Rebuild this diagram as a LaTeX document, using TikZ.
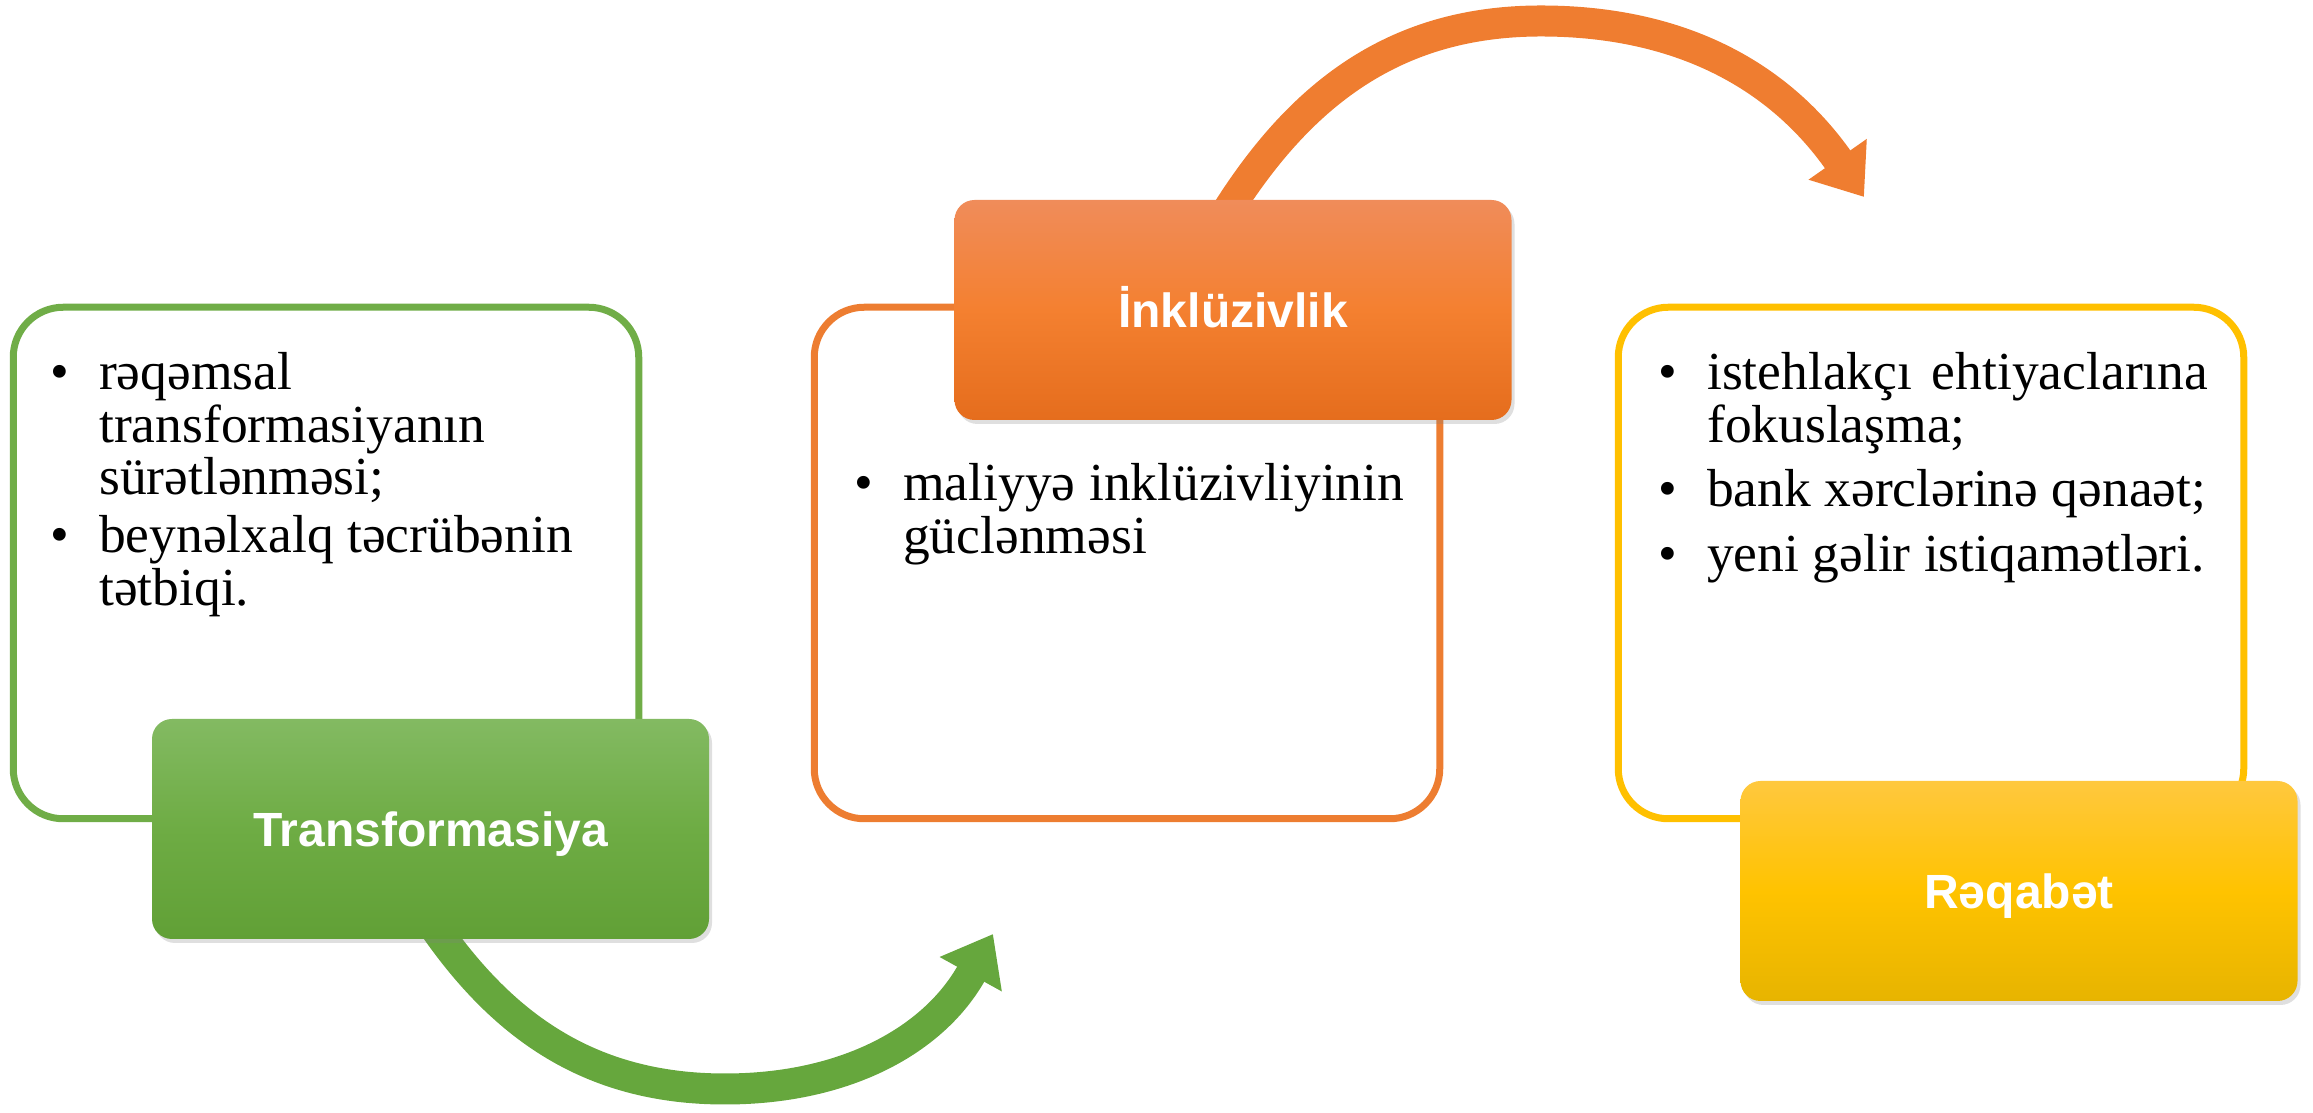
\documentclass[tikz,border=0pt]{standalone}
\usepackage{fontspec}
\setmainfont{Liberation Serif}
\newfontfamily\hdrfont{Liberation Sans}
\usetikzlibrary{arrows.meta,shadows}
\definecolor{gline}{HTML}{70AD47}
\definecolor{oline}{HTML}{ED7D31}
\definecolor{yline}{HTML}{FFC000}
\definecolor{gtop}{HTML}{83BA62}
\definecolor{gmid}{HTML}{6EAC44}
\definecolor{gbot}{HTML}{61A036}
\definecolor{otop}{HTML}{F08C5A}
\definecolor{omid}{HTML}{F48030}
\definecolor{obot}{HTML}{E56D1D}
\definecolor{ytop}{HTML}{FFC83E}
\definecolor{ymid}{HTML}{FFC300}
\definecolor{ybot}{HTML}{E7B400}
\definecolor{garrow}{HTML}{66A73D}
\definecolor{oarrow}{HTML}{EF7D30}
\newcommand\bitem[1]{\hangindent=49pt\hangafter=1\noindent\makebox[49pt][l]{\textbullet}#1\par}
\begin{document}
\begin{tikzpicture}[x=1pt,y=1pt,
  outlinebox/.style={draw=#1, line width=7pt, rounded corners=50pt,
    minimum width=625.5pt, minimum height=511.5pt, inner sep=0pt, fill=white},
  headbox/.style={rounded corners=20pt, minimum width=557pt, minimum height=220pt,
    inner sep=0pt, text=white, font=\hdrfont\bfseries\fontsize{48}{48}\selectfont,
    text height=34.4pt, text depth=0pt,
    drop shadow={shadow xshift=3pt, shadow yshift=-4pt, opacity=0.25}},
  bodytext/.style={anchor=base west, inner sep=0pt, font=\fontsize{53.5}{52.5}\selectfont},
  flow/.style={line width=31pt}
]
\useasboundingbox (0,0) rectangle (2313,1113);

% outline boxes
\node[outlinebox=gline] (gbox) at (326,550) {};
\node[outlinebox=oline] (obox) at (1127,550) {};
\node[outlinebox=yline] (ybox) at (1931,550) {};

% arrow coordinates
\coordinate (gs) at (423,203);
\coordinate (gb) at (725,24);
\coordinate (ge) at (993,179);
\coordinate (os) at (1218,887);
\coordinate (ot) at (1541,1092);
\coordinate (oe) at (1864,916);

% arrows
\draw[flow, draw=garrow, -{Triangle[length=46pt,width=68pt,fill=garrow]}] (gs) to[out=-57,in=180] (gb) to[out=0,in=241] (ge);
\draw[flow, draw=oarrow, -{Triangle[length=46pt,width=68pt,fill=oarrow]}] (os) to[out=59,in=180] (ot) to[out=0,in=125] (oe);

% header boxes
\node[headbox, top color=gtop, bottom color=gbot, middle color=gmid] (ghead) at (430.5,284) {Transformasiya};
\node[headbox, top color=otop, bottom color=obot, middle color=omid] (ohead) at (1233,803) {İnklüzivlik};
\node[headbox, top color=ytop, bottom color=ybot, middle color=ymid] (yhead) at (2019,222) {Rəqabət};

% body texts
\node[bodytext] (gtext) at (50,723) {\parbox[t]{550pt}{\parindent=0pt\parskip=5.5pt
\bitem{rəqəmsal\\transformasiyanın\\sürətlənməsi;}
\bitem{beynəlxalq təcrübənin\\tətbiqi.}}};
\node[bodytext] (otext) at (854,612) {\parbox[t]{550pt}{\parindent=0pt\parskip=0pt
\bitem{maliyyə inklüzivliyinin\linebreak güclənməsi}}};
\node[bodytext] (ytext) at (1658,723) {\parbox[t]{550pt}{\parindent=0pt\parskip=12pt
\bitem{istehlakçı ehtiyaclarına\linebreak fokuslaşma;}
\bitem{bank xərclərinə qənaət;}
\bitem{yeni gəlir istiqamətləri.}}};
\end{tikzpicture}
\end{document}
